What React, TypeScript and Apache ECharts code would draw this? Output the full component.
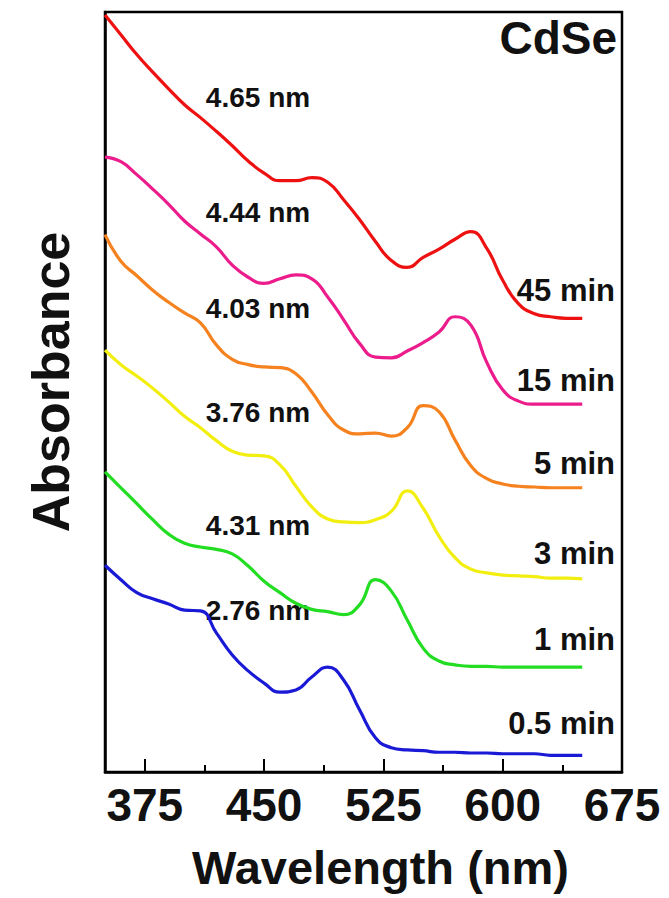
import React, { useEffect, useRef } from "react";
import * as echarts from "echarts";

// Wavelength grid (nm)
const wavelengths = [
  350, 360, 370, 380, 390, 400, 410, 420, 430, 440, 450, 460, 470, 480, 490, 500,
  510, 520, 530, 540, 550, 560, 570, 580, 590, 600, 610, 620, 630, 640, 650,
];

// Absorbance (a.u., vertically offset curves)
const abs45min = [
  9.96, 9.7, 9.44, 9.21, 8.99, 8.78, 8.61, 8.43, 8.24, 8.04, 7.88, 7.78, 7.78, 7.82, 7.76, 7.53,
  7.27, 6.98, 6.73, 6.64, 6.77, 6.88, 7.01, 7.11, 6.89, 6.47, 6.16, 6.03, 5.99, 5.97, 5.97,
];
const abs15min = [
  8.09, 8.03, 7.86, 7.67, 7.47, 7.25, 7.08, 6.91, 6.67, 6.51, 6.43, 6.49, 6.54, 6.49, 6.25, 5.95,
  5.64, 5.46, 5.45, 5.54, 5.65, 5.79, 5.99, 5.88, 5.39, 5.03, 4.88, 4.84, 4.84, 4.84, 4.84,
];
const abs5min = [
  7.07, 6.72, 6.53, 6.34, 6.18, 6.04, 5.91, 5.62, 5.43, 5.36, 5.33, 5.32, 5.24, 5.0, 4.7, 4.5,
  4.45, 4.46, 4.42, 4.53, 4.82, 4.74, 4.37, 4.03, 3.86, 3.79, 3.76, 3.75, 3.74, 3.74, 3.74,
];
const abs3min = [
  5.55, 5.36, 5.21, 5.05, 4.87, 4.68, 4.53, 4.36, 4.22, 4.17, 4.16, 4.04, 3.76, 3.49, 3.33, 3.29,
  3.28, 3.32, 3.43, 3.7, 3.47, 3.1, 2.82, 2.67, 2.62, 2.59, 2.58, 2.57, 2.55, 2.55, 2.54,
];
const abs1min = [
  3.95, 3.74, 3.53, 3.32, 3.13, 3.01, 2.96, 2.93, 2.87, 2.71, 2.51, 2.36, 2.22, 2.14, 2.11, 2.07,
  2.2, 2.53, 2.38, 2.0, 1.63, 1.46, 1.41, 1.39, 1.39, 1.38, 1.38, 1.38, 1.38, 1.38, 1.38,
];
const abs05min = [
  2.72, 2.53, 2.36, 2.28, 2.21, 2.13, 2.12, 1.83, 1.54, 1.33, 1.17, 1.05, 1.08, 1.25, 1.38, 1.21,
  0.82, 0.45, 0.32, 0.29, 0.28, 0.26, 0.26, 0.25, 0.25, 0.24, 0.24, 0.24, 0.22, 0.22, 0.22,
];

const seriesNames = ["45 min", "15 min", "5 min", "3 min", "1 min", "0.5 min"];
const sizeLabels = ["4.65 nm", "4.44 nm", "4.03 nm", "3.76 nm", "4.31 nm", "2.76 nm"];
const seriesData = [abs45min, abs15min, abs5min, abs3min, abs1min, abs05min];
const seriesColors = ["#ee1111", "#ec1c8c", "#f5821f", "#f2ee10", "#22dd22", "#1a1ad6"];

const majorTicks = [375, 450, 525, 600];
const tickLabels = [375, 450, 525, 600, 675];
const minorTicks = [412.5, 487.5, 562.5, 637.5];

const FONT = "'Liberation Sans', Arial, Helvetica, sans-serif";

// annotation placement (pixels)
const sizeLabelY = [97, 212, 308, 412, 525, 610];
const timeLabelY = [290, 380, 463, 553, 639, 723];

export default function App() {
  const ref = useRef<HTMLDivElement>(null);
  useEffect(() => {
    if (!ref.current) return;
    const chart = echarts.init(ref.current, undefined, { renderer: "svg" });
    const graphics: any[] = [];
    sizeLabels.forEach((t, i) => {
      graphics.push({
        type: "text",
        x: 258,
        y: sizeLabelY[i],
        style: {
          text: t,
          fill: "#111",
          font: `bold 28px ${FONT}`,
          align: "center",
          verticalAlign: "middle",
        },
      });
    });
    seriesNames.forEach((t, i) => {
      graphics.push({
        type: "text",
        x: 615,
        y: timeLabelY[i],
        style: {
          text: t,
          fill: "#111",
          font: `bold 31px ${FONT}`,
          align: "right",
          verticalAlign: "middle",
        },
      });
    });
    graphics.push({
      type: "text",
      x: 617,
      y: 38,
      style: {
        text: "CdSe",
        fill: "#111",
        font: `bold 46px ${FONT}`,
        align: "right",
        verticalAlign: "middle",
      },
    });

    chart.setOption({
      animation: false,
      backgroundColor: "#fff",
      grid: {
        left: 105,
        right: 47,
        top: 12,
        bottom: 126,
        show: true,
        borderColor: "#000",
        borderWidth: 2.5,
        backgroundColor: "transparent",
      },
      xAxis: [
        {
          type: "value",
          min: 350,
          max: 675,
          name: "Wavelength (nm)",
          nameLocation: "middle",
          nameGap: 72,
          nameTextStyle: {
            fontFamily: FONT,
            fontWeight: "bold",
            fontSize: 47,
            color: "#111",
            padding: [0, 0, 0, 34],
          },
          axisLine: { show: true, lineStyle: { color: "#000", width: 2.5 } },
          axisTick: {
            show: true,
            inside: true,
            length: 13,
            lineStyle: { color: "#000", width: 2 },
            customValues: majorTicks,
          },
          axisLabel: {
            show: true,
            fontFamily: FONT,
            fontWeight: "bold",
            fontSize: 46,
            color: "#111",
            margin: 10,
            customValues: tickLabels,
          },
          splitLine: { show: false },
        },
        {
          type: "value",
          min: 350,
          max: 675,
          position: "bottom",
          axisLine: { show: false },
          axisTick: {
            show: true,
            inside: true,
            length: 7,
            lineStyle: { color: "#000", width: 2 },
            customValues: minorTicks,
          },
          axisLabel: { show: false },
          splitLine: { show: false },
        },
      ],
      yAxis: {
        type: "value",
        min: 0,
        max: 10,
        name: "Absorbance",
        nameLocation: "middle",
        nameGap: 28,
        nameTextStyle: {
          fontFamily: FONT,
          fontWeight: "bold",
          fontSize: 52,
          color: "#111",
          padding: [0, 0, 0, 20],
        },
        axisLine: { show: true, lineStyle: { color: "#000", width: 2.5 } },
        axisTick: { show: false },
        axisLabel: { show: false },
        splitLine: { show: false },
      },
      series: seriesNames.map((name, i) => ({
        name,
        type: "line",
        xAxisIndex: 0,
        smooth: 0.5,
        showSymbol: false,
        symbol: "none",
        lineStyle: { color: seriesColors[i], width: 3.2 },
        itemStyle: { color: seriesColors[i] },
        data: wavelengths.map((w, j) => [w, seriesData[i][j]]),
        z: 3,
      })),
      graphic: graphics,
    });
    return () => chart.dispose();
  }, []);
  return (
    <div
      ref={ref}
      style={{ position: "fixed", left: 0, top: 0, width: 669, height: 898, background: "#fff" }}
    />
  );
}
